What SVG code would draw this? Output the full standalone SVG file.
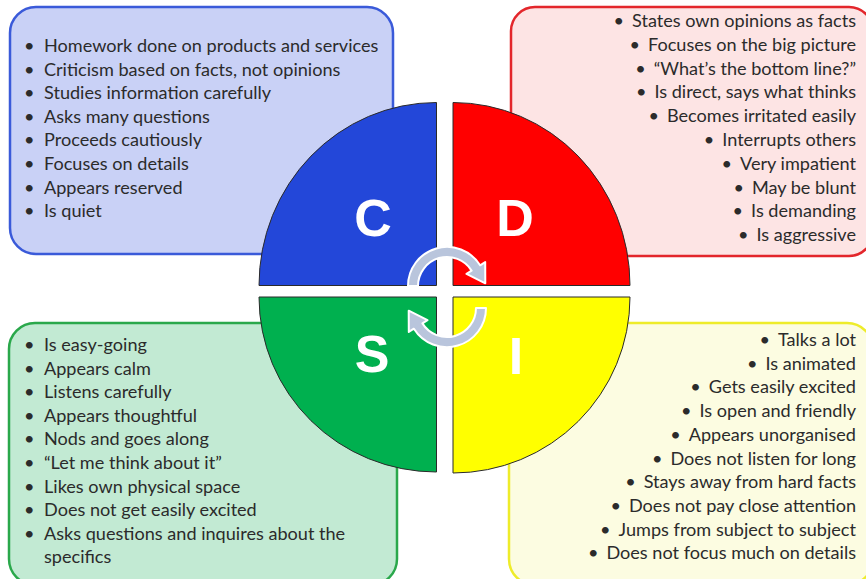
<svg xmlns="http://www.w3.org/2000/svg" width="866" height="579" viewBox="0 0 866 579">
<style>
.t{font-family:Lato,"Open Sans","Liberation Sans",sans-serif;font-size:18.1px;fill:#2b2b2b}
.r{text-anchor:end}
.q{stroke:#2a2a2a;stroke-width:1}
.L{font-family:"Liberation Sans",Arial,sans-serif;font-weight:bold;font-size:52px;fill:#fff;text-anchor:middle}
.arr{fill:#b9c5dc;stroke:#fff;stroke-width:2;stroke-linejoin:round}
</style>
<rect width="866" height="579" fill="#fff"/>
<g id="box-c">
<rect x="10" y="7" width="383" height="247" rx="26" fill="#c9d1f6" stroke="#3a5ad9" stroke-width="2.5"/>
<text class="t" y="52"><tspan x="24">•</tspan><tspan x="44">Homework done on products and services</tspan></text>
<text class="t" y="75.6"><tspan x="24">•</tspan><tspan x="44">Criticism based on facts, not opinions</tspan></text>
<text class="t" y="99.2"><tspan x="24">•</tspan><tspan x="44">Studies information carefully</tspan></text>
<text class="t" y="122.8"><tspan x="24">•</tspan><tspan x="44">Asks many questions</tspan></text>
<text class="t" y="146.4"><tspan x="24">•</tspan><tspan x="44">Proceeds cautiously</tspan></text>
<text class="t" y="170"><tspan x="24">•</tspan><tspan x="44">Focuses on details</tspan></text>
<text class="t" y="193.6"><tspan x="24">•</tspan><tspan x="44">Appears reserved</tspan></text>
<text class="t" y="217.2"><tspan x="24">•</tspan><tspan x="44">Is quiet</tspan></text>
</g>
<g id="box-d">
<rect x="511" y="7" width="362" height="249" rx="24" fill="#fde4e4" stroke="#e3262b" stroke-width="2.5"/>
<text class="t r" x="856" y="27"><tspan>•</tspan><tspan dx="8">States own opinions as facts</tspan></text>
<text class="t r" x="856" y="50.8"><tspan>•</tspan><tspan dx="8">Focuses on the big picture</tspan></text>
<text class="t r" x="856" y="74.6"><tspan>•</tspan><tspan dx="8">“What’s the bottom line?”</tspan></text>
<text class="t r" x="856" y="98.4"><tspan>•</tspan><tspan dx="8">Is direct, says what thinks</tspan></text>
<text class="t r" x="856" y="122.2"><tspan>•</tspan><tspan dx="8">Becomes irritated easily</tspan></text>
<text class="t r" x="856" y="146"><tspan>•</tspan><tspan dx="8">Interrupts others</tspan></text>
<text class="t r" x="856" y="169.8"><tspan>•</tspan><tspan dx="8">Very impatient</tspan></text>
<text class="t r" x="856" y="193.6"><tspan>•</tspan><tspan dx="8">May be blunt</tspan></text>
<text class="t r" x="856" y="217.4"><tspan>•</tspan><tspan dx="8">Is demanding</tspan></text>
<text class="t r" x="856" y="241.2"><tspan>•</tspan><tspan dx="8">Is aggressive</tspan></text>
</g>
<g id="box-s">
<rect x="9" y="323" width="388" height="262" rx="26" fill="#c2ead3" stroke="#2aa84b" stroke-width="2.5"/>
<text class="t" y="351"><tspan x="24">•</tspan><tspan x="44">Is easy-going</tspan></text>
<text class="t" y="374.6"><tspan x="24">•</tspan><tspan x="44">Appears calm</tspan></text>
<text class="t" y="398.2"><tspan x="24">•</tspan><tspan x="44">Listens carefully</tspan></text>
<text class="t" y="421.8"><tspan x="24">•</tspan><tspan x="44">Appears thoughtful</tspan></text>
<text class="t" y="445.4"><tspan x="24">•</tspan><tspan x="44">Nods and goes along</tspan></text>
<text class="t" y="469"><tspan x="24">•</tspan><tspan x="44">“Let me think about it”</tspan></text>
<text class="t" y="492.6"><tspan x="24">•</tspan><tspan x="44">Likes own physical space</tspan></text>
<text class="t" y="516.2"><tspan x="24">•</tspan><tspan x="44">Does not get easily excited</tspan></text>
<text class="t" y="539.8"><tspan x="24">•</tspan><tspan x="44">Asks questions and inquires about the</tspan></text>
<text class="t" x="44" y="563.4">specifics</text>
</g>
<g id="box-i">
<rect x="509" y="323" width="364" height="262" rx="26" fill="#fcfce1" stroke="#eeec2a" stroke-width="2.5"/>
<text class="t r" x="856" y="346"><tspan>•</tspan><tspan dx="8">Talks a lot</tspan></text>
<text class="t r" x="856" y="369.7"><tspan>•</tspan><tspan dx="8">Is animated</tspan></text>
<text class="t r" x="856" y="393.4"><tspan>•</tspan><tspan dx="8">Gets easily excited</tspan></text>
<text class="t r" x="856" y="417.1"><tspan>•</tspan><tspan dx="8">Is open and friendly</tspan></text>
<text class="t r" x="856" y="440.8"><tspan>•</tspan><tspan dx="8">Appears unorganised</tspan></text>
<text class="t r" x="856" y="464.5"><tspan>•</tspan><tspan dx="8">Does not listen  for long</tspan></text>
<text class="t r" x="856" y="488.2"><tspan>•</tspan><tspan dx="8">Stays away from hard facts</tspan></text>
<text class="t r" x="856" y="511.9"><tspan>•</tspan><tspan dx="8">Does not pay close attention</tspan></text>
<text class="t r" x="856" y="535.6"><tspan>•</tspan><tspan dx="8">Jumps from subject to subject</tspan></text>
<text class="t r" x="856" y="559.3"><tspan>•</tspan><tspan dx="8">Does not focus much on details</tspan></text>
</g>
<g id="quad-c">
<path class="q" d="M436.5 285.5 L259 285.5 A177.5 183 0 0 1 436.5 102.5 Z" fill="#2347d9"/>
<text class="L" x="373" y="236">C</text>
</g>
<g id="quad-d">
<path class="q" d="M453 285.5 L453 102.5 A177 183 0 0 1 630 285.5 Z" fill="#ff0000"/>
<text class="L" x="515" y="236">D</text>
</g>
<g id="quad-s">
<path class="q" d="M436.5 297 L436.5 472 A177.5 175 0 0 1 259 297 Z" fill="#00b04f"/>
<text class="L" x="372" y="372">S</text>
</g>
<g id="quad-i">
<path class="q" d="M453 297 L630 297 A177 176 0 0 1 453 473 Z" fill="#ffff00"/>
<text class="L" x="516" y="374">I</text>
</g>
<g id="connectors">
<path class="arr" d="M408 286 A39 39 0 0 1 480.1 265.3 L485.2 262.1 L485.3 283.3 L466.5 273.8 L471.6 270.6 A29 29 0 0 0 418 286 Z"/>
<path class="arr" transform="rotate(180 447 297)" d="M408 286 A39 39 0 0 1 480.1 265.3 L485.2 262.1 L485.3 283.3 L466.5 273.8 L471.6 270.6 A29 29 0 0 0 418 286 Z"/>
</g>
</svg>
